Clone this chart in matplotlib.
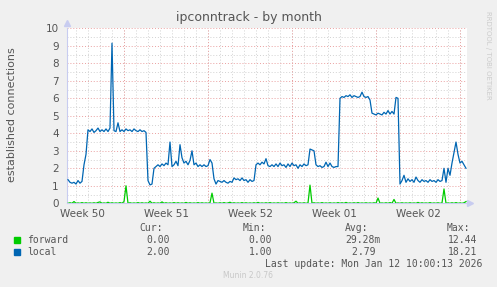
import numpy as np
import pandas as pd
import matplotlib
matplotlib.use("Agg")
import matplotlib.pyplot as plt
import matplotlib.dates as mdates

# samples every 4 hours, Dec 10 08:00 .. Jan 12 10:00
times = pd.date_range("2025-12-10 08:00", periods=200, freq="4h")

local = [
    1.35, 1.2, 1.15, 1.2, 1.1, 1.3, 1.15, 1.25, 2.2, 2.8,
    4.2, 4.1, 4.25, 4.05, 4.15, 4.3, 4.1, 4.2, 4.1, 4.25,
    4.1, 4.3, 9.15, 4.15, 4.1, 4.6, 4.1, 4.2, 4.1, 4.25,
    4.15, 4.2, 4.1, 4.25, 4.15, 4.1, 4.2, 4.1, 4.15, 4.05,
    1.3, 1.05, 1.1, 2.0, 2.1, 2.2, 2.1, 2.25, 2.15, 2.3,
    2.2, 3.5, 2.1, 2.2, 2.4, 2.15, 3.35, 2.6, 2.3, 2.4,
    2.2, 2.45, 3.0, 2.2, 2.3, 2.1, 2.2, 2.1, 2.2, 2.1,
    2.15, 2.5, 2.3, 1.4, 1.1, 1.3, 1.25, 1.2, 1.3, 1.2,
    1.15, 1.25, 1.2, 1.45, 1.35, 1.4, 1.3, 1.45, 1.3, 1.35,
    1.2, 1.35, 1.25, 1.3, 2.2, 2.3, 2.2, 2.35, 2.25, 2.55,
    2.15, 2.1, 2.2, 2.1, 2.25, 2.1, 2.3, 2.15, 2.2, 2.05,
    2.25, 2.1, 2.3, 2.15, 2.2, 2.0, 2.2, 2.1, 2.25, 2.15,
    2.2, 3.1, 3.05, 3.0, 2.2, 2.1, 2.15, 2.05, 2.1, 2.35,
    2.1, 2.3, 2.1, 2.05, 2.1, 2.1, 6.0, 6.1, 6.05, 6.15,
    6.1, 6.2, 6.05, 6.15, 6.1, 6.05, 6.1, 6.35, 6.1, 6.05,
    6.1, 5.9, 5.15, 5.1, 5.05, 5.15, 5.1, 5.05, 5.2, 5.1,
    5.3, 5.1, 5.25, 5.1, 6.05, 6.0, 1.1, 1.3, 1.6, 1.2,
    1.4, 1.25, 1.35, 1.2, 1.5, 1.3, 1.2, 1.35, 1.25, 1.3,
    1.2, 1.35, 1.25, 1.3, 1.2, 1.35, 1.25, 1.3, 2.0, 1.2,
    2.0, 1.6, 2.3, 2.9, 3.5, 2.8, 2.3, 2.4, 2.2, 2.0,
]

forward = [
    0, 0.03, 0, 0.1, 0, 0.02, 0, 0.04, 0, 0.03,
    0, 0.02, 0, 0.03, 0, 0.05, 0.08, 0, 0.02, 0,
    0.06, 0, 0.03, 0, 0.02, 0, 0.04, 0, 0.1, 1.0,
    0, 0.03, 0, 0.02, 0, 0.04, 0, 0.03, 0, 0.02,
    0, 0.12, 0, 0.03, 0, 0.02, 0, 0.08, 0, 0.03,
    0, 0.02, 0, 0.04, 0, 0.03, 0, 0.02, 0, 0.05,
    0, 0.03, 0, 0.02, 0, 0.04, 0, 0.03, 0, 0.02,
    0, 0.03, 0.58, 0, 0.02, 0, 0.03, 0, 0.04, 0,
    0.02, 0.06, 0, 0.03, 0, 0.02, 0, 0.04, 0, 0.03,
    0, 0.02, 0, 0.03, 0, 0.05, 0, 0.02, 0, 0.03,
    0, 0.04, 0, 0.02, 0, 0.03, 0, 0.02, 0, 0.04,
    0, 0.02, 0, 0.03, 0.12, 0, 0.02, 0, 0.03, 0,
    0.02, 1.04, 0, 0.03, 0, 0.02, 0, 0.04, 0, 0.02,
    0, 0.03, 0, 0.02, 0, 0.04, 0, 0.03, 0, 0.05,
    0, 0.02, 0, 0.03, 0, 0.04, 0, 0.02, 0, 0.03,
    0, 0.02, 0, 0.03, 0, 0.3, 0, 0.02, 0, 0.03,
    0, 0.04, 0, 0.22, 0, 0.02, 0, 0.03, 0, 0.02,
    0, 0.03, 0, 0.02, 0, 0.05, 0, 0.03, 0, 0.02,
    0, 0.04, 0, 0.02, 0, 0.03, 0, 0.02, 0.82, 0,
    0.02, 0, 0.03, 0, 0.04, 0, 0.02, 0, 0.03, 0.1,
]

week_labels = ["Week 50", "Week 51", "Week 52", "Week 01", "Week 02"]
week_centers = pd.to_datetime(["2025-12-11 12:00", "2025-12-18 12:00", "2025-12-25 12:00",
                               "2026-01-01 12:00", "2026-01-08 12:00"])
week_starts = pd.to_datetime(["2025-12-15", "2025-12-22", "2025-12-29", "2026-01-05", "2026-01-12"])

legend_names = ["forward", "local"]
legend_colors = ["#00CC00", "#0066B3"]
cur_vals = ["0.00", "2.00"]
min_vals = ["0.00", "1.00"]
avg_vals = ["29.28m", "2.79 "]
max_vals = ["12.44", "18.21"]

W, H = 497, 287
fig = plt.figure(figsize=(W / 100, H / 100), dpi=100, facecolor="#F0F0F0")
ax = fig.add_axes([67 / W, (H - 203.3) / H, 400 / W, 175 / H])
ax.set_facecolor("white")

x0 = pd.Timestamp("2025-12-10 06:00")
x1 = pd.Timestamp("2026-01-12 14:00")
ax.set_xlim(x0, x1)
ax.set_ylim(0, 10)

# grid: minor per day / half unit, major per week / unit
minor_days = pd.date_range("2025-12-11", "2026-01-12", freq="D")
for d in minor_days:
    ax.axvline(d, color="#d2d2d2", lw=0.7, ls=(0, (1, 2)), zorder=1)
for v in np.arange(0.5, 10, 1.0):
    ax.axhline(v, color="#d2d2d2", lw=0.7, ls=(0, (1, 2)), zorder=1)
for d in week_starts:
    ax.axvline(d, color="#eaa0a0", lw=0.7, ls=(0, (1, 2)), zorder=2)
for v in range(1, 11):
    ax.axhline(v, color="#eaa0a0", lw=0.7, ls=(0, (1, 2)), zorder=2)

ax.plot(times, forward, color=legend_colors[0], lw=0.9, zorder=4)
ax.plot(times, local, color=legend_colors[1], lw=0.9, zorder=4)

ax.set_yticks(range(0, 11))
ax.set_xticks(week_centers)
ax.set_xticklabels(week_labels)
ax.tick_params(axis="both", length=0, labelsize=7.5, labelcolor="#555555")
ax.tick_params(axis="y", pad=6)
ax.tick_params(axis="x", pad=4)

for s in ["top", "right"]:
    ax.spines[s].set_visible(False)
ax.spines["left"].set_color("#c8ccf0")
ax.spines["bottom"].set_color("#c8ccf0")
ax.plot([0], [1.03], marker="^", color="#c8ccf0", ms=5, transform=ax.transAxes, clip_on=False)
ax.plot([1.008], [0], marker=">", color="#c8ccf0", ms=5, transform=ax.transAxes, clip_on=False)


def ft(x, y, s, **kw):
    fig.text(x / W, 1 - y / H, s, **kw)


ft(249, 18, "ipconntrack - by month", ha="center", va="center", fontsize=9, color="#555555")
ft(12, 115, "established connections", ha="center", va="center", rotation=90,
   fontsize=8, color="#555555")
ft(488, 55, "RRDTOOL / TOBI OETIKER", ha="center", va="center", rotation=270,
   fontsize=5, color="#cccccc")

mono = dict(family="DejaVu Sans Mono", fontsize=7, color="#555555", va="center")
for x, s in [(163, "Cur:"), (266, "Min:"), (368, "Avg:"), (470, "Max:")]:
    ft(x, 228, s, ha="right", **mono)
rows_y = [240, 252]
for i in range(2):
    y = rows_y[i]
    fig.patches.append(plt.Rectangle((14 / W, 1 - (y + 3) / H), 6 / W, 6 / H,
                                     transform=fig.transFigure, color=legend_colors[i]))
    ft(27, y, legend_names[i], ha="left", **mono)
    ft(170, y, cur_vals[i], ha="right", **mono)
    ft(272, y, min_vals[i], ha="right", **mono)
    ft(381, y, avg_vals[i], ha="right", **mono)
    ft(477, y, max_vals[i], ha="right", **mono)
ft(482, 264, "Last update: Mon Jan 12 10:00:13 2026", ha="right", **mono)
ft(248, 276, "Munin 2.0.76", ha="center", va="center", fontsize=5.5, color="#c8c8c8")

fig.savefig("out.png", dpi=100, facecolor=fig.get_facecolor())
